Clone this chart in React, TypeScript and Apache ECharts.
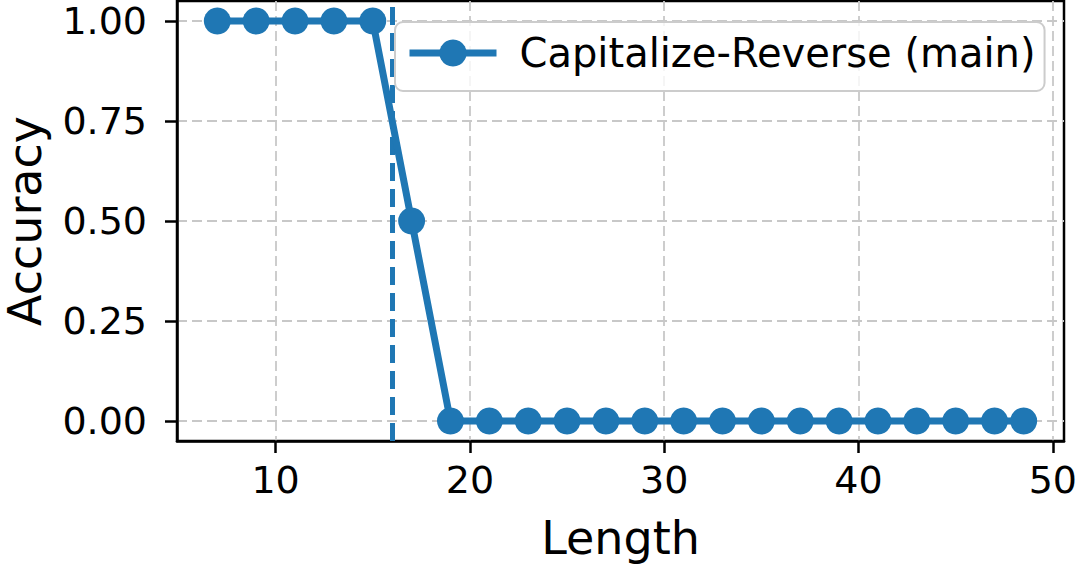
import React, { useEffect, useRef } from "react";
import * as echarts from "echarts";

const SERIES_NAME = "Capitalize-Reverse (main)";
const lengths = [7, 9, 11, 13, 15, 17, 19, 21, 23, 25, 27, 29, 31, 33, 35, 37, 39, 41, 43, 45, 47, 48.5];
const accuracy = [1, 1, 1, 1, 1, 0.5, 0, 0, 0, 0, 0, 0, 0, 0, 0, 0, 0, 0, 0, 0, 0, 0];
const trainLength = 16;
const xTicks = [10, 20, 30, 40, 50];
const yTicks = [0, 0.25, 0.5, 0.75, 1];

const BLUE = "#1f77b4";
const FONT = "DejaVu Sans";

export default function App() {
  const ref = useRef<HTMLDivElement>(null);
  useEffect(() => {
    if (!ref.current) return;
    const chart = echarts.init(ref.current, null, { renderer: "svg" });
    const xMinD = Math.min(...lengths);
    const xMaxD = Math.max(...lengths);
    const xPad = (xMaxD - xMinD) * 0.05;
    const yPad = 0.05;
    const gridLine = { show: true, lineStyle: { color: "#c8c8c8", width: 1.8, type: [10, 5] } };
    chart.setOption({
      animation: false,
      backgroundColor: "#ffffff",
      textStyle: { fontFamily: FONT },
      grid: {
        left: 177,
        right: 14,
        top: 1,
        bottom: 128,
        outerBoundsMode: "none",
        containLabel: false,
        show: true,
        borderColor: "#000",
        borderWidth: 2.5,
        backgroundColor: "transparent",
      },
      legend: {
        data: [SERIES_NAME],
        left: 395,
        top: 22,
        itemWidth: 87,
        itemHeight: 34,
        padding: [11, 9, 18, 11],
        borderColor: "#cccccc",
        borderWidth: 2,
        borderRadius: 8,
        backgroundColor: "rgba(255,255,255,0.8)",
        lineStyle: { width: 7, color: BLUE },
        itemStyle: { color: BLUE },
        textStyle: { fontSize: 40, fontFamily: FONT, color: "#000", padding: [0, 0, 0, 18] },
      },
      xAxis: {
        type: "value",
        min: xMinD - xPad,
        max: xMaxD + xPad,
        name: "Length",
        nameLocation: "middle",
        nameGap: 74,
        nameTextStyle: { fontSize: 46, fontFamily: FONT, color: "#000" },
        axisLine: { show: true, onZero: false, lineStyle: { color: "#000", width: 2.5 } },
        axisTick: { show: true, customValues: xTicks, length: 12, lineStyle: { color: "#000", width: 2.5 } },
        axisLabel: { customValues: xTicks, fontSize: 38, fontFamily: FONT, color: "#000", margin: 20 },
        splitLine: gridLine,
      },
      yAxis: {
        type: "value",
        min: -yPad,
        max: 1 + yPad,
        name: "Accuracy",
        nameLocation: "middle",
        nameGap: 133,
        nameTextStyle: { fontSize: 46, lineHeight: 38, fontFamily: FONT, color: "#000" },
        axisLine: { show: true, onZero: false, lineStyle: { color: "#000", width: 2.5 } },
        axisTick: { show: true, customValues: yTicks, length: 12, lineStyle: { color: "#000", width: 2.5 } },
        axisLabel: {
          customValues: yTicks,
          fontSize: 38,
          fontFamily: FONT,
          color: "#000",
          margin: 30,
          formatter: (v: number) => v.toFixed(2),
        },
        splitLine: gridLine,
      },
      series: [
        {
          name: SERIES_NAME,
          type: "line",
          data: lengths.map((x, i) => [x, accuracy[i]]),
          color: BLUE,
          lineStyle: { color: BLUE, width: 7 },
          itemStyle: { color: BLUE },
          symbol: "circle",
          symbolSize: 27,
          showSymbol: true,
          clip: false,
          z: 3,
          markLine: {
            silent: true,
            symbol: "none",
            label: { show: false },
            lineStyle: { color: BLUE, width: 5, type: [18, 8] },
            data: [{ xAxis: trainLength }],
            z: 2,
          },
        },
      ],
    });
    return () => chart.dispose();
  }, []);
  return (
    <div
      ref={ref}
      style={{ position: "fixed", left: 0, top: 0, width: 1078, height: 569, background: "#fff" }}
    />
  );
}
